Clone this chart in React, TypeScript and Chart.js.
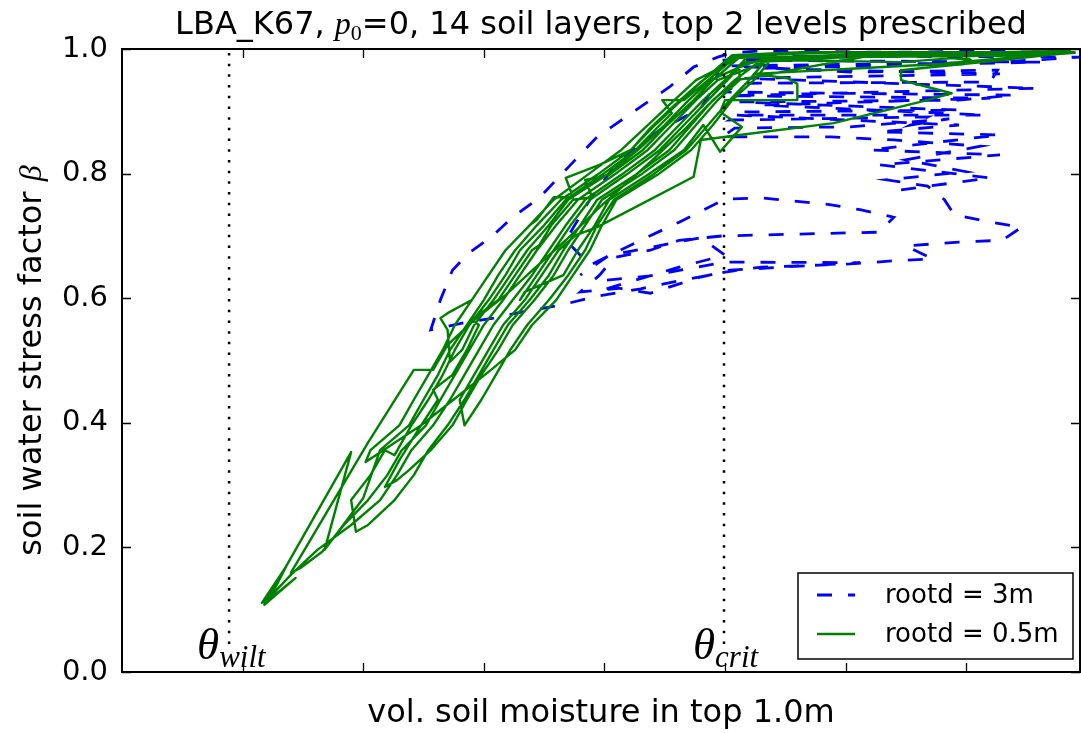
import React, { useEffect, useRef } from 'react';
import { Chart, registerables } from 'chart.js';

Chart.register(...registerables);

// ---------------- data ----------------
const titleText = ['LBA_K67, ', 'p', '0', '=0, 14 soil layers, top 2 levels prescribed'];
const xLabel = 'vol. soil moisture in top 1.0m';
const yLabel = 'soil water stress factor ';
const yLabelSymbol = 'β';
const seriesLabels = ['rootd = 3m', 'rootd = 0.5m'];

const X_MIN = 0.1;
const X_MAX = 0.4972;
const xTicks = [0.15, 0.2, 0.25, 0.3, 0.35, 0.4, 0.45];
const yTicks = [0, 0.2, 0.4, 0.6, 0.8, 1.0];

const thetaWilt = 0.1444;
const thetaCrit = 0.3496;
const thetaLineY = [0.045, 1.0];

// rootd = 3m (blue, dashed): [soil moisture, beta]
const rootd3: [number, number][] = [
  [0.423, 0.774], [0.460, 0.793], [0.414, 0.814], [0.464, 0.830], [0.410, 0.838], [0.464, 0.862], [0.414, 0.867], [0.447, 0.878],
  [0.354, 0.894], [0.458, 0.894], [0.365, 0.910], [0.460, 0.921], [0.352, 0.925], [0.479, 0.937], [0.358, 0.953], [0.464, 0.960],
  [0.365, 0.969], [0.481, 0.979], [0.349, 0.982],
  [0.496, 0.997], [0.476, 0.995], [0.456, 0.997], [0.431, 0.995], [0.406, 0.995], [0.381, 0.997], [0.365, 0.997], [0.353, 0.994],
  [0.347, 0.987], [0.337, 0.971], [0.327, 0.939], [0.318, 0.915], [0.306, 0.883], [0.297, 0.859], [0.284, 0.806], [0.273, 0.761],
  [0.262, 0.730], [0.253, 0.698], [0.244, 0.673], [0.237, 0.645], [0.232, 0.597], [0.228, 0.549],
  [0.241, 0.560], [0.254, 0.568], [0.266, 0.578], [0.282, 0.589], [0.298, 0.604], [0.315, 0.615], [0.331, 0.628], [0.350, 0.642],
  [0.365, 0.650], [0.381, 0.652], [0.402, 0.655], [0.420, 0.660], [0.436, 0.663], [0.425, 0.684], [0.447, 0.690], [0.465, 0.693],
  [0.473, 0.714], [0.460, 0.722], [0.445, 0.734], [0.441, 0.758], [0.434, 0.780], [0.417, 0.790], [0.450, 0.803], [0.425, 0.822],
  [0.456, 0.844], [0.420, 0.854], [0.394, 0.859], [0.349, 0.859], [0.354, 0.873], [0.402, 0.875], [0.443, 0.888], [0.427, 0.878],
  [0.434, 0.891], [0.352, 0.886], [0.358, 0.899], [0.447, 0.902], [0.356, 0.915], [0.447, 0.918], [0.470, 0.926], [0.350, 0.931],
  [0.356, 0.945], [0.460, 0.947], [0.463, 0.966], [0.402, 0.963], [0.352, 0.973], [0.460, 0.978], [0.497, 0.987], [0.365, 0.989],
  [0.349, 0.986], [0.345, 0.937], [0.340, 0.905], [0.323, 0.870], [0.306, 0.822], [0.294, 0.758], [0.284, 0.693], [0.294, 0.653],
  [0.315, 0.693], [0.331, 0.722], [0.350, 0.759], [0.365, 0.761], [0.378, 0.756], [0.392, 0.751], [0.406, 0.742], [0.420, 0.730],
  [0.416, 0.714], [0.414, 0.706], [0.381, 0.703], [0.349, 0.700], [0.331, 0.693], [0.319, 0.677], [0.304, 0.665], [0.298, 0.637],
  [0.290, 0.610], [0.306, 0.616], [0.319, 0.608], [0.340, 0.634], [0.352, 0.645], [0.406, 0.657],
  [0.350, 0.658], [0.319, 0.636], [0.301, 0.629], [0.299, 0.613], [0.331, 0.650], [0.350, 0.669], [0.340, 0.697], [0.302, 0.669],
  [0.290, 0.637],
];

// rootd = 0.5m (green, solid): [soil moisture, beta]
const rootd05: [number, number][] = [
  // cycle 1
  [0.360, 0.990], [0.350, 0.950], [0.341, 0.918], [0.331, 0.878], [0.321, 0.838], [0.307, 0.798], [0.292, 0.758], [0.284, 0.717],
  [0.277, 0.677], [0.270, 0.637], [0.262, 0.597], [0.254, 0.557], [0.248, 0.517], [0.242, 0.477], [0.236, 0.437], [0.229, 0.396],
  [0.220, 0.356], [0.214, 0.316], [0.207, 0.276], [0.195, 0.236], [0.181, 0.196], [0.170, 0.156], [0.161, 0.119], [0.158, 0.111],
  [0.168, 0.169], [0.161, 0.116], [0.172, 0.151], [0.159, 0.108], [0.195, 0.353], [0.184, 0.196], [0.200, 0.279],
  [0.207, 0.356], [0.219, 0.396], [0.225, 0.437], [0.231, 0.477], [0.236, 0.517], [0.243, 0.557], [0.250, 0.597], [0.256, 0.637],
  [0.263, 0.677], [0.272, 0.717], [0.282, 0.758], [0.297, 0.798], [0.311, 0.838], [0.321, 0.878], [0.332, 0.918], [0.341, 0.950],
  [0.353, 0.990], [0.381, 0.995], [0.423, 0.995], [0.464, 0.995], [0.493, 0.997], [0.460, 0.992], [0.423, 0.989], [0.389, 0.986],
  [0.365, 0.982],
  // cycle 2
  [0.356, 0.974], [0.356, 0.950], [0.347, 0.918], [0.338, 0.878], [0.329, 0.838], [0.315, 0.798], [0.299, 0.758], [0.292, 0.717],
  [0.285, 0.677], [0.279, 0.637], [0.271, 0.597], [0.262, 0.557], [0.256, 0.517], [0.249, 0.477], [0.243, 0.437], [0.237, 0.396],
  [0.228, 0.356], [0.219, 0.324], [0.214, 0.308], [0.209, 0.297],
  [0.215, 0.340], [0.224, 0.396], [0.231, 0.437], [0.229, 0.453], [0.237, 0.477], [0.243, 0.517], [0.248, 0.557], [0.245, 0.565],
  [0.256, 0.597], [0.263, 0.637], [0.270, 0.677], [0.273, 0.685], [0.278, 0.717], [0.287, 0.758], [0.295, 0.762], [0.292, 0.790],
  [0.302, 0.798], [0.316, 0.838], [0.326, 0.878], [0.337, 0.918], [0.345, 0.950], [0.357, 0.990], [0.402, 0.995], [0.447, 0.994],
  [0.481, 0.995], [0.439, 0.990], [0.398, 0.987], [0.369, 0.982],
  // cycle 3
  [0.367, 0.982], [0.360, 0.950], [0.352, 0.918], [0.343, 0.878], [0.334, 0.838], [0.320, 0.798], [0.304, 0.758], [0.297, 0.717],
  [0.292, 0.677], [0.285, 0.637], [0.277, 0.597], [0.268, 0.557], [0.261, 0.517], [0.255, 0.477], [0.249, 0.437], [0.242, 0.396],
  [0.240, 0.437], [0.246, 0.477], [0.252, 0.517], [0.258, 0.557], [0.267, 0.597], [0.274, 0.637], [0.281, 0.677], [0.288, 0.701],
  [0.297, 0.714], [0.337, 0.795], [0.340, 0.854], [0.356, 0.862], [0.395, 0.881], [0.431, 0.915], [0.444, 0.929], [0.423, 0.950],
  [0.423, 0.966], [0.464, 0.982], [0.495, 0.995], [0.443, 0.992], [0.402, 0.990], [0.369, 0.987],
  // cycle 4
  [0.358, 0.974], [0.344, 0.950], [0.335, 0.918], [0.325, 0.878], [0.314, 0.838], [0.301, 0.798], [0.285, 0.758], [0.277, 0.717],
  [0.268, 0.677], [0.261, 0.637], [0.254, 0.597], [0.246, 0.557], [0.241, 0.517], [0.236, 0.498],
  [0.235, 0.549], [0.232, 0.568], [0.235, 0.576], [0.245, 0.597], [0.252, 0.637], [0.259, 0.677], [0.269, 0.717], [0.272, 0.726],
  [0.279, 0.762], [0.287, 0.762], [0.284, 0.793], [0.298, 0.814], [0.311, 0.838], [0.319, 0.873], [0.330, 0.913], [0.340, 0.947],
  [0.353, 0.986], [0.381, 0.995], [0.423, 0.995], [0.452, 0.982], [0.450, 0.987], [0.423, 0.979], [0.381, 0.982], [0.358, 0.979],
  // cycle 5
  [0.351, 0.950], [0.343, 0.918], [0.333, 0.878], [0.323, 0.838], [0.309, 0.798], [0.294, 0.758], [0.286, 0.717], [0.279, 0.677],
  [0.272, 0.637], [0.265, 0.597],
  [0.267, 0.610], [0.283, 0.637], [0.289, 0.677], [0.296, 0.717], [0.302, 0.758], [0.318, 0.798], [0.333, 0.838], [0.341, 0.878],
  [0.348, 0.835], [0.357, 0.875], [0.348, 0.899], [0.350, 0.918], [0.380, 0.918], [0.380, 0.944], [0.376, 0.953], [0.362, 0.960],
  [0.406, 0.969], [0.439, 0.976], [0.468, 0.986], [0.495, 0.994],
  // cycle 6
  [0.464, 0.989], [0.402, 0.987], [0.369, 0.982], [0.358, 0.966], [0.347, 0.950], [0.338, 0.918], [0.328, 0.878], [0.318, 0.838],
  [0.304, 0.798], [0.289, 0.758], [0.280, 0.717], [0.272, 0.677], [0.265, 0.637], [0.258, 0.597], [0.250, 0.557], [0.244, 0.517],
  [0.238, 0.477], [0.232, 0.437], [0.226, 0.396], [0.216, 0.356], [0.210, 0.316], [0.202, 0.276], [0.192, 0.236], [0.183, 0.193],
  [0.174, 0.167], [0.170, 0.159],
  [0.202, 0.368], [0.221, 0.485], [0.229, 0.485], [0.235, 0.525], [0.246, 0.565], [0.259, 0.605], [0.271, 0.648], [0.284, 0.693],
  [0.297, 0.742], [0.306, 0.774], [0.320, 0.822], [0.333, 0.870], [0.343, 0.910], [0.354, 0.950], [0.365, 0.982], [0.394, 0.990],
  [0.431, 0.994], [0.464, 0.995], [0.489, 0.997],
  // cycle 7
  [0.356, 0.986], [0.338, 0.950], [0.329, 0.918], [0.318, 0.878], [0.307, 0.838], [0.293, 0.798], [0.279, 0.758], [0.269, 0.717],
  [0.259, 0.677], [0.252, 0.637], [0.245, 0.597], [0.238, 0.557], [0.233, 0.517], [0.227, 0.477], [0.221, 0.437], [0.215, 0.396],
  [0.203, 0.356], [0.201, 0.337],
  [0.224, 0.396], [0.240, 0.445], [0.253, 0.485], [0.263, 0.517], [0.270, 0.557], [0.280, 0.597], [0.287, 0.637], [0.294, 0.677],
  [0.299, 0.717], [0.305, 0.758], [0.322, 0.798], [0.336, 0.838], [0.345, 0.878], [0.353, 0.918], [0.362, 0.950], [0.370, 0.987],
  [0.414, 0.992],
  // cycle 8
  [0.355, 0.950], [0.345, 0.918], [0.336, 0.878], [0.327, 0.838], [0.313, 0.798], [0.297, 0.758], [0.290, 0.717], [0.283, 0.677],
  [0.277, 0.637], [0.269, 0.597], [0.260, 0.557], [0.254, 0.517], [0.248, 0.477], [0.242, 0.437], [0.235, 0.396], [0.227, 0.356],
  [0.221, 0.316], [0.213, 0.276], [0.202, 0.236], [0.197, 0.225],
  [0.195, 0.276], [0.203, 0.316], [0.209, 0.356], [0.213, 0.348], [0.220, 0.396], [0.227, 0.437], [0.233, 0.477], [0.238, 0.517],
  [0.244, 0.557], [0.252, 0.597], [0.259, 0.637], [0.265, 0.677], [0.275, 0.717], [0.284, 0.758], [0.299, 0.798], [0.313, 0.838],
  [0.323, 0.878], [0.328, 0.897], [0.324, 0.918], [0.333, 0.918], [0.343, 0.950], [0.354, 0.986],
];

// ---------------- styles ----------------
const BLUE = '#0000ff';
const GREEN = '#008000';
const SANS = '"DejaVu Sans", sans-serif';
const SERIF = '"Liberation Serif", "DejaVu Serif", serif';
const BLUE_DASH = [15, 16];

type Piece = { text: string; font: string; dy?: number };

function drawPieces(ctx: CanvasRenderingContext2D, pieces: Piece[], x: number, y: number, align: 'left' | 'center') {
  let total = 0;
  const widths = pieces.map((p) => {
    ctx.font = p.font;
    const w = ctx.measureText(p.text).width;
    total += w;
    return w;
  });
  let cx = align === 'center' ? x - total / 2 : x;
  ctx.textAlign = 'left';
  ctx.textBaseline = 'alphabetic';
  pieces.forEach((p, i) => {
    ctx.font = p.font;
    ctx.fillText(p.text, cx, y + (p.dy || 0));
    cx += widths[i];
  });
}

const overlayPlugin = {
  id: 'overlay',
  afterDraw(chart: any) {
    const { ctx, chartArea: a, scales } = chart;
    const xs = scales.x;
    const ys = scales.y;
    ctx.save();
    ctx.strokeStyle = '#000';
    ctx.fillStyle = '#000';
    ctx.setLineDash([]);

    // inward tick marks on all four sides
    ctx.lineWidth = 1.3;
    const TL = 9;
    ctx.beginPath();
    for (const t of xTicks) {
      const px = Math.round(xs.getPixelForValue(t)) + 0.5;
      ctx.moveTo(px, a.bottom);
      ctx.lineTo(px, a.bottom - TL);
      ctx.moveTo(px, a.top);
      ctx.lineTo(px, a.top + TL);
    }
    for (const t of yTicks) {
      const py = Math.round(ys.getPixelForValue(t)) + 0.5;
      ctx.moveTo(a.left, py);
      ctx.lineTo(a.left + TL, py);
      ctx.moveTo(a.right, py);
      ctx.lineTo(a.right - TL, py);
    }
    ctx.stroke();

    // frame
    ctx.lineWidth = 2;
    ctx.strokeRect(a.left, a.top, a.right - a.left, a.bottom - a.top);

    const cx = (a.left + a.right) / 2;
    const cy = (a.top + a.bottom) / 2;

    // title
    drawPieces(
      ctx,
      [
        { text: titleText[0], font: `32px ${SANS}` },
        { text: titleText[1], font: `italic 32px ${SERIF}` },
        { text: titleText[2], font: `22px ${SERIF}`, dy: 6 },
        { text: titleText[3], font: `32px ${SANS}` },
      ],
      cx,
      34,
      'center'
    );

    // x label
    drawPieces(ctx, [{ text: xLabel, font: `32px ${SANS}` }], cx, 722, 'center');

    // y label (rotated)
    ctx.save();
    ctx.translate(41, cy);
    ctx.rotate(-Math.PI / 2);
    drawPieces(
      ctx,
      [
        { text: yLabel, font: `32px ${SANS}` },
        { text: yLabelSymbol, font: `italic 32px ${SERIF}` },
      ],
      0,
      0,
      'center'
    );
    ctx.restore();

    // theta labels
    const wx = xs.getPixelForValue(thetaWilt);
    const crx = xs.getPixelForValue(thetaCrit);
    drawPieces(
      ctx,
      [
        { text: 'θ', font: `italic 45px ${SERIF}` },
        { text: 'wilt', font: `italic 31px ${SERIF}`, dy: 8 },
      ],
      wx - 32,
      659,
      'left'
    );
    drawPieces(
      ctx,
      [
        { text: 'θ', font: `italic 45px ${SERIF}` },
        { text: 'crit', font: `italic 31px ${SERIF}`, dy: 8 },
      ],
      crx - 31,
      659,
      'left'
    );

    // legend
    const lx = a.right - 282;
    const ly = a.bottom - 99;
    const lw = 275;
    const lh = 86;
    ctx.fillStyle = '#fff';
    ctx.fillRect(lx, ly, lw, lh);
    ctx.lineWidth = 1.5;
    ctx.strokeStyle = '#000';
    ctx.strokeRect(lx, ly, lw, lh);
    const rows = [
      { y: ly + 22, color: BLUE, dash: BLUE_DASH, width: 2.8, label: seriesLabels[0] },
      { y: ly + 61, color: GREEN, dash: [] as number[], width: 2.4, label: seriesLabels[1] },
    ];
    for (const r of rows) {
      ctx.beginPath();
      ctx.strokeStyle = r.color;
      ctx.lineWidth = r.width;
      ctx.setLineDash(r.dash);
      ctx.moveTo(lx + 19, r.y);
      ctx.lineTo(lx + 57, r.y);
      ctx.stroke();
      ctx.setLineDash([]);
      ctx.fillStyle = '#000';
      ctx.font = `26px ${SANS}`;
      ctx.textAlign = 'left';
      ctx.textBaseline = 'middle';
      ctx.fillText(r.label, lx + 87, r.y + 1);
    }
    ctx.restore();
  },
};

export default function App() {
  const canvasRef = useRef<HTMLCanvasElement | null>(null);

  useEffect(() => {
    const canvas = canvasRef.current;
    if (!canvas) return;
    const toPts = (arr: [number, number][]) => arr.map(([x, y]) => ({ x, y }));
    const chart = new Chart(canvas, {
      type: 'line',
      data: {
        datasets: [
          {
            label: 'theta_wilt',
            data: thetaLineY.map((y) => ({ x: thetaWilt, y })),
            borderColor: '#000',
            borderWidth: 2.5,
            borderDash: [2.5, 8.2],
            pointRadius: 0,
            order: 0,
          },
          {
            label: 'theta_crit',
            data: thetaLineY.map((y) => ({ x: thetaCrit, y })),
            borderColor: '#000',
            borderWidth: 2.5,
            borderDash: [2.5, 8.2],
            pointRadius: 0,
            order: 0,
          },
          {
            label: seriesLabels[1],
            data: toPts(rootd05),
            borderColor: GREEN,
            borderWidth: 2.4,
            borderJoinStyle: 'round',
            pointRadius: 0,
            tension: 0,
            order: 1,
          },
          {
            label: seriesLabels[0],
            data: toPts(rootd3),
            borderColor: BLUE,
            borderWidth: 2.8,
            borderDash: BLUE_DASH,
            pointRadius: 0,
            tension: 0,
            order: 2,
          },
        ],
      },
      options: {
        animation: false,
        responsive: false,
        devicePixelRatio: 1,
        layout: { padding: { top: 49, right: 1, left: 0, bottom: 0 } },
        plugins: {
          legend: { display: false },
          title: { display: false },
          tooltip: { enabled: false },
        },
        scales: {
          x: {
            type: 'linear',
            min: X_MIN,
            max: X_MAX,
            grid: { display: false, drawTicks: false },
            border: { display: false },
            ticks: { display: false },
            afterFit: (s: any) => {
              s.height = 61;
            },
          },
          y: {
            type: 'linear',
            min: 0,
            max: 1,
            grid: { display: false, drawTicks: false },
            border: { display: false },
            afterBuildTicks: (s: any) => {
              s.ticks = yTicks.map((v) => ({ value: v }));
            },
            ticks: {
              padding: 14,
              color: '#000',
              font: { family: 'DejaVu Sans', size: 29 },
              callback: (v: any) => Number(v).toFixed(1),
            },
            afterFit: (s: any) => {
              s.width = 122;
            },
          },
        },
      } as any,
      plugins: [overlayPlugin],
    });
    return () => chart.destroy();
  }, []);

  return (
    <div style={{ position: 'fixed', left: 0, top: 0, width: 1081, height: 733, background: '#fff' }}>
      <canvas ref={canvasRef} width={1081} height={733} style={{ display: 'block' }} />
    </div>
  );
}
